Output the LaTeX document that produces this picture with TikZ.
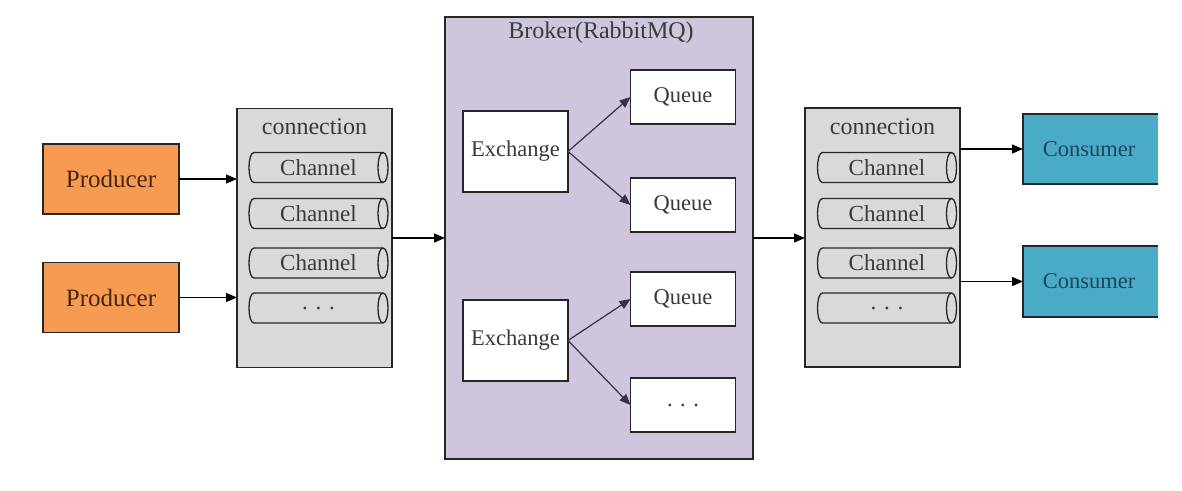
\documentclass[tikz,border=0pt]{standalone}
\usepackage{fontspec}
\setmainfont{Liberation Serif}
\usetikzlibrary{arrows.meta}
\definecolor{prodfill}{HTML}{F79A52}
\definecolor{consfill}{HTML}{4AABC6}
\definecolor{brokerfill}{HTML}{CFC6DE}
\definecolor{connfill}{HTML}{D9D9D9}
\definecolor{edge}{HTML}{262626}
\definecolor{txt}{HTML}{3A3A3A}
\definecolor{prodtxt}{HTML}{4A2608}
\definecolor{constxt}{HTML}{17475C}
\definecolor{exarrow}{HTML}{3A3048}
\tikzset{
  box/.style={draw=edge, line width=1.3pt, inner sep=0pt, outer sep=0pt, text=txt,
    font=\fontsize{22.5}{24}\selectfont},
  prodbox/.style={box, fill=prodfill, text=prodtxt, minimum width=136, minimum height=70,
    font=\fontsize{25}{27}\selectfont},
  connbox/.style={box, fill=connfill, minimum width=155, minimum height=259},
  brokerbox/.style={box, fill=brokerfill, minimum width=308, minimum height=442},
  exbox/.style={box, fill=white, minimum width=105, minimum height=81},
  qbox/.style={box, fill=white, minimum width=105, minimum height=54},
  chan/.style={inner sep=0pt, outer sep=0pt, minimum width=139, minimum height=30, text=txt,
    font=\fontsize{23}{25}\selectfont},
  consbox/.style={inner sep=0pt, outer sep=0pt, fill=consfill, minimum width=135, minimum height=70,
    text=constxt, font=\fontsize{22.5}{24}\selectfont},
  cyl/.style={draw=edge, line width=1.3pt},
  lbl/.style={text=txt, font=\fontsize{24}{26}\selectfont, inner sep=0pt},
  arr/.style={-{Triangle[length=11pt,width=9pt]}, line width=1.2pt, draw=black},
  exarr/.style={arr, draw=exarrow, fill=black}
}
\begin{document}
\begin{tikzpicture}[x=1pt,y=-1pt]
\useasboundingbox (0,0) rectangle (1182,490);
% producers
\node[prodbox] (p1) at (111,179) {Producer};
\node[prodbox] (p2) at (111,297.5) {Producer};
% left connection
\node[connbox] (lc) at (314.5,238) {};
\node[lbl] (lct) at (314.5,127) {connection};
\node[chan] (l1) at (318.5,167.5) {Channel};
\node[chan] (l2) at (318.5,213.5) {Channel};
\node[chan] (l3) at (318.5,263) {Channel};
\node[chan] (l4) at (318.5,308) {. . .};
% broker
\node[brokerbox] (br) at (599,238) {};
\node[lbl] (brt) at (601,33) {Broker(RabbitMQ)};
\node[exbox] (e1) at (515.5,151.5) {Exchange};
\node[exbox] (e2) at (515.5,340.5) {Exchange};
\node[qbox] (q1) at (683,97) {Queue};
\node[qbox] (q2) at (683,205) {Queue};
\node[qbox] (q3) at (683,299) {Queue};
\node[qbox] (q4) at (683,405) {. . .};
% right connection
\node[connbox] (rc) at (882.5,237.5) {};
\node[lbl] (rct) at (882.5,127) {connection};
\node[chan] (r1) at (887,167.5) {Channel};
\node[chan] (r2) at (887,213.5) {Channel};
\node[chan] (r3) at (887,263) {Channel};
\node[chan] (r4) at (887,308) {. . .};
% consumers (right border cut off by the frame)
\node[consbox] (c1) at (1090.5,149) {\hspace*{-3pt}Consumer};
\node[consbox, minimum height=71] (c2) at (1090.5,281.5) {\hspace*{-3pt}Consumer};
\foreach \c in {c1,c2}{
  \draw[draw=edge, line width=1.3pt] (\c.north east) -- (\c.north west) -- (\c.south west) -- (\c.south east);
}
% channel cylinders
\foreach \n in {l1,l2,l3,l4,r1,r2,r3,r4}{
  \draw[cyl] ([xshift=5pt]\n.north west) -- ([xshift=-5pt]\n.north east)
    .. controls ([xshift=1.67pt]\n.north east) and ([xshift=1.67pt]\n.south east) .. ([xshift=-5pt]\n.south east)
    -- ([xshift=5pt]\n.south west)
    .. controls ([xshift=-1.67pt]\n.south west) and ([xshift=-1.67pt]\n.north west) .. cycle;
  \draw[cyl] ([xshift=-5pt]\n.north east)
    .. controls ([xshift=-11.67pt]\n.north east) and ([xshift=-11.67pt]\n.south east) .. ([xshift=-5pt]\n.south east);
}
% connectors
\draw[arr] (p1.east) -- (p1.east -| lc.west);
\draw[arr] (p2.east) -- (p2.east -| lc.west);
\draw[arr] (lc.east |- br.west) -- (br.west);
\draw[exarr] (e1.east) -- (q1.west);
\draw[exarr] (e1.east) -- (q2.west);
\draw[exarr] (e2.east) -- (q3.west);
\draw[exarr] (e2.east) -- (q4.west);
\draw[arr] (br.east) -- (br.east -| rc.west);
\draw[arr] (rc.east |- c1.west) -- (c1.west);
\draw[arr] (rc.east |- c2.west) -- (c2.west);
\end{tikzpicture}
\end{document}
